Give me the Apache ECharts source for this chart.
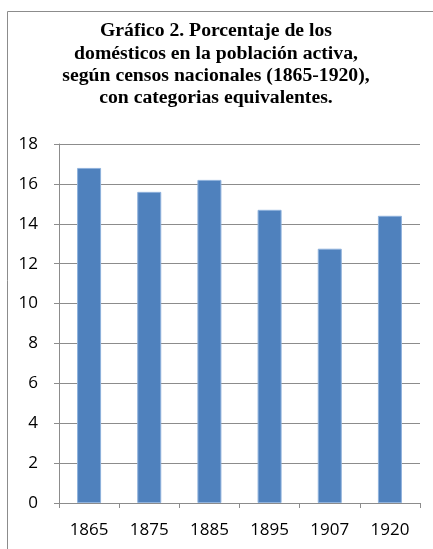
<!DOCTYPE html>
<html>
<head>
<meta charset="utf-8">
<script src="https://cdn.jsdelivr.net/npm/echarts@6/dist/echarts.min.js"></script>
<style>
  html, body { margin: 0; padding: 0; background: #fff; }
  #chart { width: 433px; height: 549px; }
</style>
</head>
<body>
<div id="chart"></div>
<script>
// datos del gráfico
var years = ['1865', '1875', '1885', '1895', '1907', '1920'];
var porcentaje = [16.8, 15.6, 16.2, 14.7, 12.75, 14.4];
var titulo = 'Gráfico 2. Porcentaje de los\ndomésticos en la población activa,\nsegún censos nacionales (1865-1920),\ncon categorias equivalentes.';

var chart = echarts.init(document.getElementById('chart'));

chart.setOption({
  animation: false,
  graphic: [
    // marco exterior (recortado a la derecha y abajo)
    {
      type: 'rect',
      shape: { x: 7.5, y: 11.5, width: 440, height: 600 },
      style: { fill: 'none', stroke: '#8c8c8c', lineWidth: 1 },
      silent: true
    },
    // título
    {
      type: 'text',
      x: 216,
      y: 20,
      style: {
        text: titulo,
        textAlign: 'center',
        textVerticalAlign: 'top',
        fontFamily: 'Liberation Serif',
        fontWeight: 'bold',
        fontSize: 19.7,
        lineHeight: 22.4,
        fill: '#000'
      },
      silent: true
    }
  ],
  grid: { left: 59, right: 13, top: 144, bottom: 46 },
  xAxis: {
    type: 'category',
    data: years,
    axisLine: { lineStyle: { color: '#8c8c8c', width: 1 } },
    axisTick: { show: true, length: 5, lineStyle: { color: '#8c8c8c' } },
    axisLabel: {
      margin: 19,
      fontFamily: 'Open Sans',
      fontSize: 17,
      color: '#000'
    }
  },
  yAxis: {
    type: 'value',
    min: 0,
    max: 18,
    interval: 2,
    axisLine: { show: true, lineStyle: { color: '#8c8c8c', width: 1 } },
    axisTick: { show: true, length: 5, lineStyle: { color: '#8c8c8c' } },
    axisLabel: {
      margin: 21,
      fontFamily: 'Open Sans',
      fontSize: 17,
      color: '#000'
    },
    splitLine: { lineStyle: { color: '#8c8c8c', width: 1 } }
  },
  series: [{
    type: 'bar',
    data: porcentaje,
    barWidth: 24,
    itemStyle: {
      color: '#4f81bd',
      borderColor: '#8eb1dc',
      borderWidth: 1
    }
  }]
});
</script>
</body>
</html>
